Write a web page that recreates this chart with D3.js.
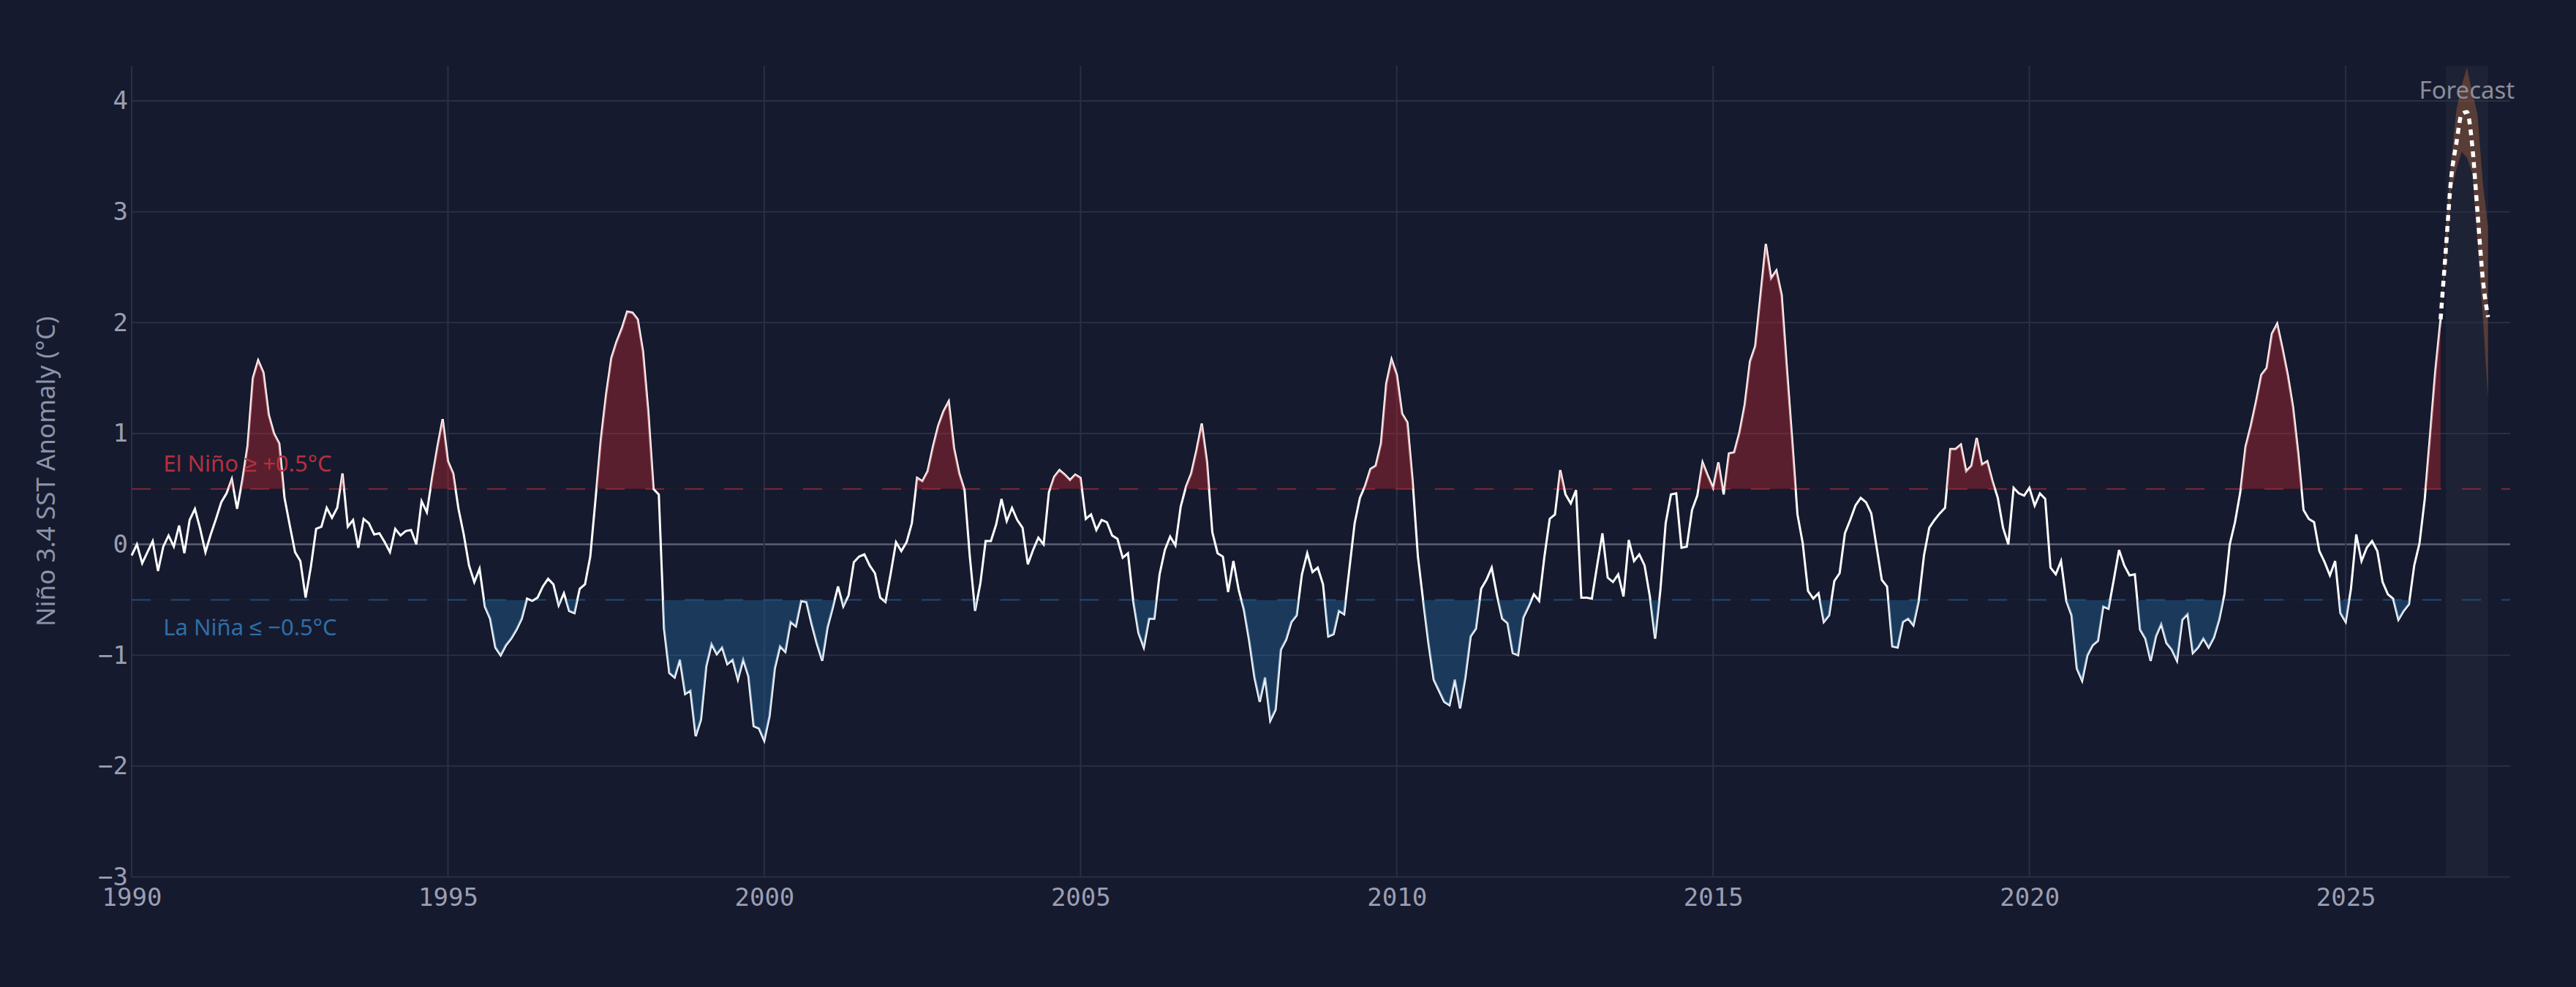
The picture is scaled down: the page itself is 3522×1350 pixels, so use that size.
<!DOCTYPE html>
<html>
<head>
<meta charset="utf-8">
<script src="https://cdn.jsdelivr.net/npm/d3@7"></script>
<style>
  body { margin: 0; background: #161a2e; }
  svg { display: block; }
</style>
</head>
<body>
<svg id="chart" width="3522" height="1350"></svg>
<script>
// monthly Nino 3.4 anomaly, Jan 1990 onwards
var startYear = 1990;
var anomaly = [
  -0.10, 0.00, -0.17, -0.07, 0.03, -0.24, -0.02, 0.08, -0.02, 0.17, -0.08, 0.22,
  0.32, 0.14, -0.07, 0.09, 0.23, 0.38, 0.46, 0.59, 0.32, 0.58, 0.89, 1.50,
  1.66, 1.55, 1.17, 1.00, 0.91, 0.42, 0.17, -0.07, -0.15, -0.48, -0.20, 0.14,
  0.16, 0.33, 0.24, 0.33, 0.64, 0.16, 0.22, -0.03, 0.23, 0.19, 0.09, 0.10,
  0.02, -0.07, 0.14, 0.08, 0.12, 0.13, 0.00, 0.39, 0.29, 0.60, 0.88, 1.13,
  0.75, 0.64, 0.32, 0.09, -0.19, -0.34, -0.22, -0.56, -0.67, -0.93, -1.00, -0.91,
  -0.85, -0.77, -0.67, -0.49, -0.51, -0.48, -0.38, -0.31, -0.36, -0.55, -0.44, -0.60,
  -0.62, -0.40, -0.36, -0.11, 0.41, 0.94, 1.35, 1.68, 1.83, 1.95, 2.10, 2.09,
  2.03, 1.74, 1.20, 0.50, 0.45, -0.76, -1.16, -1.20, -1.04, -1.35, -1.32, -1.73,
  -1.58, -1.10, -0.90, -0.99, -0.93, -1.08, -1.04, -1.22, -1.04, -1.19, -1.64, -1.66,
  -1.77, -1.55, -1.12, -0.92, -0.97, -0.70, -0.74, -0.51, -0.52, -0.72, -0.90, -1.05,
  -0.75, -0.57, -0.38, -0.56, -0.46, -0.16, -0.11, -0.09, -0.19, -0.26, -0.48, -0.52,
  -0.26, 0.02, -0.06, 0.02, 0.19, 0.60, 0.57, 0.66, 0.88, 1.07, 1.20, 1.29,
  0.87, 0.64, 0.49, -0.11, -0.60, -0.35, 0.03, 0.03, 0.18, 0.41, 0.21, 0.33,
  0.22, 0.15, -0.18, -0.05, 0.06, 0.00, 0.47, 0.61, 0.67, 0.63, 0.58, 0.63,
  0.60, 0.23, 0.27, 0.13, 0.22, 0.20, 0.08, 0.05, -0.12, -0.08, -0.51, -0.80,
  -0.93, -0.67, -0.67, -0.27, -0.05, 0.07, -0.01, 0.34, 0.52, 0.64, 0.85, 1.09,
  0.74, 0.11, -0.08, -0.11, -0.43, -0.15, -0.41, -0.59, -0.87, -1.20, -1.42, -1.20,
  -1.59, -1.49, -0.95, -0.86, -0.70, -0.64, -0.27, -0.08, -0.25, -0.21, -0.36, -0.83,
  -0.81, -0.60, -0.63, -0.22, 0.19, 0.42, 0.53, 0.68, 0.71, 0.91, 1.45, 1.67,
  1.53, 1.18, 1.10, 0.57, -0.11, -0.51, -0.89, -1.22, -1.32, -1.42, -1.45, -1.22,
  -1.48, -1.20, -0.83, -0.76, -0.40, -0.32, -0.21, -0.46, -0.67, -0.71, -0.98, -1.00,
  -0.66, -0.56, -0.45, -0.51, -0.11, 0.23, 0.27, 0.67, 0.45, 0.37, 0.49, -0.48,
  -0.48, -0.49, -0.19, 0.10, -0.30, -0.34, -0.27, -0.47, 0.04, -0.15, -0.09, -0.19,
  -0.47, -0.85, -0.41, 0.19, 0.45, 0.46, -0.03, -0.02, 0.31, 0.44, 0.74, 0.62,
  0.51, 0.74, 0.45, 0.82, 0.83, 1.01, 1.26, 1.65, 1.79, 2.25, 2.71, 2.40,
  2.47, 2.25, 1.58, 0.94, 0.27, 0.01, -0.42, -0.49, -0.44, -0.70, -0.64, -0.33,
  -0.26, 0.10, 0.22, 0.35, 0.42, 0.38, 0.28, -0.02, -0.32, -0.38, -0.92, -0.93,
  -0.70, -0.67, -0.73, -0.51, -0.10, 0.15, 0.22, 0.28, 0.33, 0.86, 0.86, 0.90,
  0.66, 0.71, 0.96, 0.72, 0.75, 0.57, 0.42, 0.15, 0.00, 0.51, 0.46, 0.44,
  0.51, 0.35, 0.46, 0.41, -0.21, -0.27, -0.15, -0.51, -0.64, -1.12, -1.23, -1.00,
  -0.91, -0.87, -0.56, -0.58, -0.32, -0.05, -0.19, -0.28, -0.27, -0.77, -0.85, -1.05,
  -0.83, -0.72, -0.89, -0.95, -1.05, -0.68, -0.63, -0.98, -0.93, -0.85, -0.93, -0.84,
  -0.68, -0.45, 0.00, 0.20, 0.47, 0.88, 1.07, 1.29, 1.53, 1.59, 1.90, 1.99,
  1.77, 1.53, 1.24, 0.82, 0.31, 0.23, 0.20, -0.06, -0.16, -0.28, -0.15, -0.62,
  -0.70, -0.40, 0.09, -0.15, -0.03, 0.03, -0.06, -0.34, -0.45, -0.49, -0.68, -0.60,
  -0.54, -0.19, 0.01, 0.41, 0.98, 1.56, 2.03
];

// forecast months following the last observation
var forecast      = [2.66, 3.30, 3.62, 3.88, 3.90, 3.60, 3.00, 2.40, 2.05];
var forecastUpper = [2.85, 3.46, 3.92, 4.14, 4.30, 4.08, 3.88, 3.27, 2.86];
var forecastLower = [2.55, 3.19, 3.38, 3.54, 3.49, 3.35, 2.72, 2.07, 1.31];

var xTicks = [1990, 1995, 2000, 2005, 2010, 2015, 2020, 2025];
var yTicks = [-3, -2, -1, 0, 1, 2, 3, 4];
var elNino = 0.5, laNina = -0.5;

var bg = "#161a2e";
var plotLeft = 180, plotRight = 3432, plotTop = 90, plotBottom = 1199.5;

var svg = d3.select("#chart");
svg.append("rect").attr("width", 3522).attr("height", 1350).attr("fill", bg);

var x = d3.scaleLinear().domain([1990, 2027.6]).range([plotLeft, plotRight]);
var y = d3.scaleLinear().domain([-3, 4.317]).range([plotBottom, plotTop]);

function yr(i) { return startYear + i / 12; }

var obs = anomaly.map(function(v, i) { return {t: yr(i), v: v}; });
var n = anomaly.length;
var last = obs[n - 1];

var fc = [last].concat(forecast.map(function(v, i) { return {t: yr(n + i), v: v}; }));
var band = [{t: last.t, hi: last.v, lo: last.v}].concat(forecast.map(function(v, i) {
  return {t: yr(n + i), hi: forecastUpper[i], lo: forecastLower[i]};
}));

// forecast window shading
svg.append("rect")
  .attr("x", x(yr(n))).attr("y", plotTop)
  .attr("width", x(yr(n + forecast.length - 1)) - x(yr(n)))
  .attr("height", plotBottom - plotTop)
  .attr("fill", "#ffffff").attr("opacity", 0.035);

// grid
var grid = svg.append("g");
grid.selectAll(".gy").data(yTicks).enter().append("line")
  .attr("x1", plotLeft).attr("x2", plotRight)
  .attr("y1", function(d) { return y(d); }).attr("y2", function(d) { return y(d); })
  .attr("stroke", function(d) { return d === 0 ? "#5c6174" : "#2a2f45"; })
  .attr("stroke-width", function(d) { return d === 0 ? 2.5 : 2; });
grid.selectAll(".gx").data(xTicks).enter().append("line")
  .attr("x1", function(d) { return x(d); }).attr("x2", function(d) { return x(d); })
  .attr("y1", plotTop).attr("y2", plotBottom)
  .attr("stroke", "#2a2f45").attr("stroke-width", 2);

// threshold lines
svg.append("line")
  .attr("x1", plotLeft).attr("x2", plotRight).attr("y1", y(elNino)).attr("y2", y(elNino))
  .attr("stroke", "#7d2a38").attr("stroke-width", 2).attr("stroke-dasharray", "26 28");
svg.append("line")
  .attr("x1", plotLeft).attr("x2", plotRight).attr("y1", y(laNina)).attr("y2", y(laNina))
  .attr("stroke", "#1f4a74").attr("stroke-width", 2).attr("stroke-dasharray", "26 28");

// forecast uncertainty band
svg.append("path").datum(band)
  .attr("d", d3.area()
    .x(function(d) { return x(d.t); })
    .y0(function(d) { return y(d.lo); })
    .y1(function(d) { return y(d.hi); }))
  .attr("fill", "#e07b39").attr("opacity", 0.3);

// observed line
svg.append("path").datum(obs)
  .attr("d", d3.line().x(function(d) { return x(d.t); }).y(function(d) { return y(d.v); }))
  .attr("fill", "none").attr("stroke", "#ffffff").attr("stroke-width", 3);

// El Nino / La Nina fills, clipped at the thresholds
var defs = svg.append("defs");
defs.append("clipPath").attr("id", "clipHot").append("rect")
  .attr("x", plotLeft).attr("y", 0).attr("width", plotRight - plotLeft).attr("height", y(elNino));
defs.append("clipPath").attr("id", "clipCold").append("rect")
  .attr("x", plotLeft).attr("y", y(laNina)).attr("width", plotRight - plotLeft).attr("height", 1350 - y(laNina));

svg.append("path").datum(obs)
  .attr("clip-path", "url(#clipHot)")
  .attr("d", d3.area().x(function(d) { return x(d.t); })
    .y0(y(elNino)).y1(function(d) { return y(d.v); }))
  .attr("fill", "#c02833").attr("fill-opacity", 0.4);
svg.append("path").datum(obs)
  .attr("clip-path", "url(#clipCold)")
  .attr("d", d3.area().x(function(d) { return x(d.t); })
    .y0(y(laNina)).y1(function(d) { return y(d.v); }))
  .attr("fill", "#2369a1").attr("fill-opacity", 0.4);

// forecast dotted line
svg.append("path").datum(fc)
  .attr("d", d3.line().curve(d3.curveMonotoneX)
    .x(function(d) { return x(d.t); }).y(function(d) { return y(d.v); }))
  .attr("fill", "none").attr("stroke", "#ffffff").attr("stroke-width", 5.5)
  .attr("stroke-dasharray", "8 7");

// axes
var xAxis = svg.append("g").attr("transform", "translate(0," + plotBottom + ")")
  .call(d3.axisBottom(x).tickValues(xTicks).tickFormat(d3.format("d")).tickSize(0).tickPadding(15));
var yAxis = svg.append("g").attr("transform", "translate(" + plotLeft + ",0)")
  .call(d3.axisLeft(y).tickValues(yTicks).tickFormat(d3.format("d")).tickSize(0).tickPadding(5));
[xAxis, yAxis].forEach(function(a) {
  a.select(".domain").remove();
  a.selectAll("text")
    .attr("fill", "#9a9fb4")
    .style("font-family", "'DejaVu Sans Mono', monospace")
    .style("font-size", "34px");
});

svg.append("text")
  .attr("transform", "translate(75," + (plotTop + plotBottom) / 2 + ") rotate(-90)")
  .attr("text-anchor", "middle")
  .attr("fill", "#8d93aa")
  .style("font-family", "'Noto Sans', sans-serif").style("font-size", "35px")
  .text("Niño 3.4 SST Anomaly (°C)");

svg.append("text")
  .attr("x", x(1990.5)).attr("y", y(0.66))
  .attr("fill", "#b5303e")
  .style("font-family", "'Noto Sans', sans-serif").style("font-size", "31px")
  .text("El Niño ≥ +0.5°C");
svg.append("text")
  .attr("x", x(1990.5)).attr("y", y(-0.82))
  .attr("fill", "#2e6ea8")
  .style("font-family", "'Noto Sans', sans-serif").style("font-size", "31px")
  .text("La Niña ≤ −0.5°C");

svg.append("text")
  .attr("x", x(yr(n + 4))).attr("y", 135)
  .attr("text-anchor", "middle")
  .attr("fill", "#8b8e9a")
  .style("font-family", "'Noto Sans', sans-serif").style("font-size", "33px")
  .text("Forecast");
</script>
</body>
</html>
